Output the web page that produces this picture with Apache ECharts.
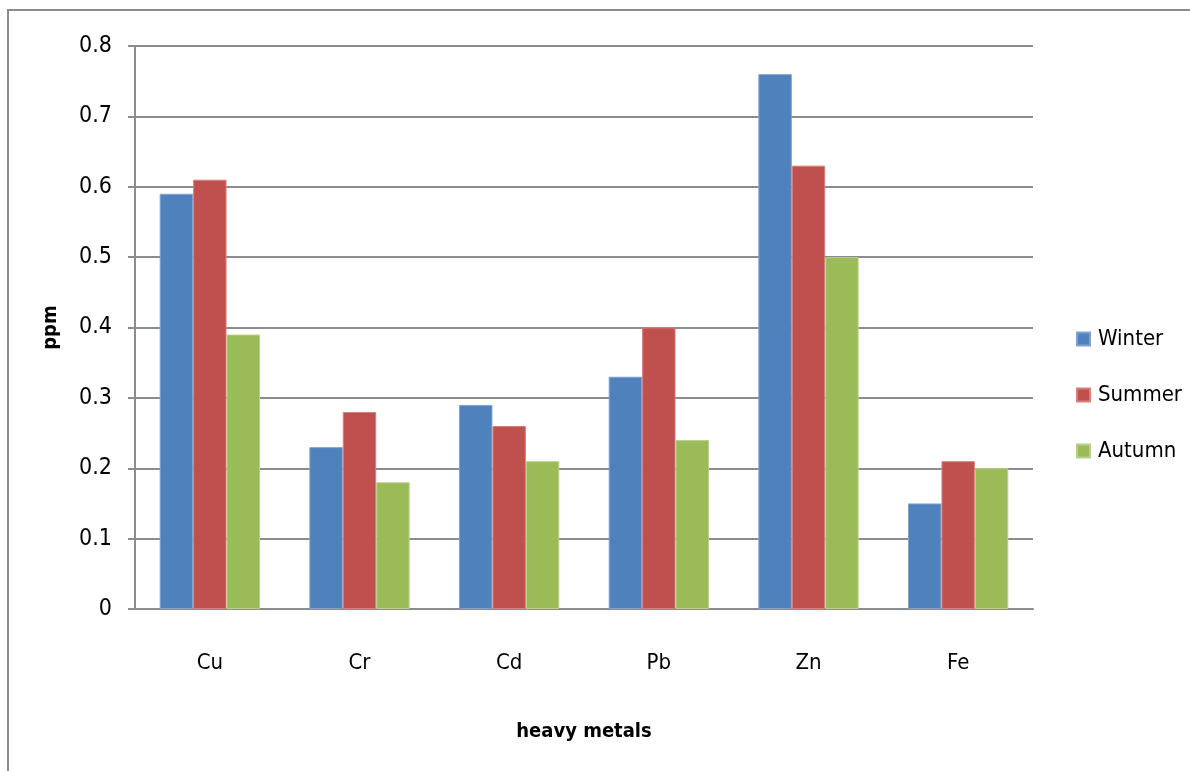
<!DOCTYPE html>
<html>
<head>
<meta charset="utf-8">
<title>Heavy metals by season</title>
<script src="https://cdn.jsdelivr.net/npm/echarts@6/dist/echarts.min.js"></script>
<style>
  html, body { margin: 0; padding: 0; background: #fff; }
  #frame { position: absolute; left: 0; top: 0; width: 1190px; height: 771px; }
  #chart { width: 1190px; height: 771px; }
  #edge { position: absolute; left: 7px; top: 9px; width: 1183px; height: 762px;
          border-left: 2px solid #8c8c8c; border-top: 2px solid #8c8c8c; pointer-events: none; }
</style>
</head>
<body>
<div id="frame">
  <div id="chart"></div>
  <div id="edge"></div>
</div>
<script>
// Heavy metal concentrations (ppm) per season
const metals = ['Cu', 'Cr', 'Cd', 'Pb', 'Zn', 'Fe'];
const winter = [0.59, 0.23, 0.29, 0.33, 0.76, 0.15];
const summer = [0.61, 0.28, 0.26, 0.40, 0.63, 0.21];
const autumn = [0.39, 0.18, 0.21, 0.24, 0.50, 0.20];
const seasonNames = ['Winter', 'Summer', 'Autumn'];
const seasonColors = ['#4F81BD', '#C0504D', '#9BBB59'];
const seasonEdges = ['#7fa3d0', '#d67f7c', '#b8d08a'];

const FONT = '"Liberation Sans Narrow", "DejaVu Sans Condensed", sans-serif';
const TEXT = '#000';

const chart = echarts.init(document.getElementById('chart'));

const seriesData = [winter, summer, autumn];
chart.setOption({
  animation: false,
  backgroundColor: '#fff',
  textStyle: { fontFamily: FONT },
  grid: { left: 135, right: 157, top: 46, bottom: 162, containLabel: false },
  legend: {
    orient: 'vertical',
    left: 1071,
    top: 323,
    itemWidth: 13,
    itemHeight: 13,
    itemGap: 34,
    icon: 'rect',
    textStyle: { fontFamily: FONT, fontSize: 22, color: TEXT, padding: [0, 0, 0, 3] },
    data: seasonNames
  },
  xAxis: {
    type: 'category',
    data: metals,
    name: 'heavy metals',
    nameLocation: 'middle',
    nameGap: 113,
    nameTextStyle: { fontFamily: FONT, fontSize: 20, fontWeight: 'bold', color: TEXT },
    axisLine: { show: true, lineStyle: { color: '#8c8c8c', width: 2 } },
    axisTick: { show: false },
    axisLabel: { fontFamily: FONT, fontSize: 22, color: TEXT, margin: 43 }
  },
  yAxis: {
    type: 'value',
    min: 0,
    max: 0.8,
    interval: 0.1,
    name: 'ppm',
    nameLocation: 'middle',
    nameGap: 74,
    nameRotate: 90,
    nameTextStyle: { fontFamily: FONT, fontSize: 20, fontWeight: 'bold', color: TEXT },
    axisLine: { show: true, lineStyle: { color: '#8c8c8c', width: 2 } },
    axisTick: { show: true, length: 7, lineStyle: { color: '#8c8c8c', width: 2 } },
    axisLabel: {
      fontFamily: FONT, fontSize: 23, color: TEXT, margin: 23,
      formatter: v => (v === 0 ? '0' : v.toFixed(1))
    },
    splitLine: { show: true, lineStyle: { color: '#8c8c8c', width: 2 } }
  },
  series: seriesData.map((vals, i) => ({
    name: seasonNames[i],
    type: 'bar',
    data: vals,
    barGap: '0%',
    barCategoryGap: '33%',
    itemStyle: { color: seasonColors[i], borderColor: seasonEdges[i], borderWidth: 1 }
  }))
});
</script>
</body>
</html>
